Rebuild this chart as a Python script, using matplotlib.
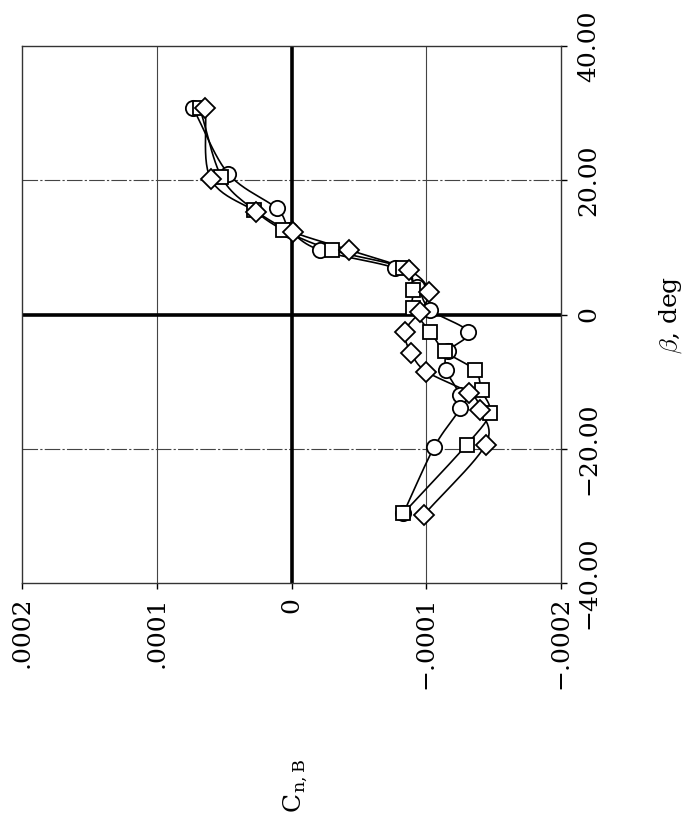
import numpy as np
import matplotlib
matplotlib.use("Agg")
import matplotlib.pyplot as plt

plt.rcParams["font.family"] = ["DejaVu Serif", "DejaVu Sans"]
plt.rcParams["mathtext.fontset"] = "cm"

# Yawing-moment coefficient vs sideslip angle, three configurations
beta_circle = [30.7, 21.0, 15.8, 12.6, 9.6, 6.9, 4.1, 0.7, -2.6, -5.5, -8.3, -12.0, -14.0, -19.7, -29.6]
cn_circle = [7.3e-5, 4.7e-5, 1.1e-5, 0.1e-5, -2.1e-5, -7.7e-5, -9.3e-5, -10.3e-5,
             -13.1e-5, -11.6e-5, -11.5e-5, -12.5e-5, -12.5e-5, -10.6e-5, -8.3e-5]

beta_square = [30.7, 20.5, 15.6, 12.6, 9.6, 6.9, 3.65, 0.9, -2.6, -5.5, -8.3, -11.3, -14.7, -19.4, -29.6]
cn_square = [6.8e-5, 5.2e-5, 2.8e-5, 0.6e-5, -3.0e-5, -8.3e-5, -9.0e-5, -9.0e-5,
             -10.3e-5, -11.4e-5, -13.6e-5, -14.1e-5, -14.7e-5, -13.0e-5, -8.3e-5]

beta_diamond = [30.7, 20.2, 15.3, 12.3, 9.6, 6.6, 3.4, 0.4, -2.6, -5.8, -8.5, -11.7, -14.2, -19.4, -29.9]
cn_diamond = [6.4e-5, 6.0e-5, 2.6e-5, -0.1e-5, -4.3e-5, -8.7e-5, -10.2e-5, -9.5e-5,
              -8.4e-5, -8.9e-5, -10.0e-5, -13.2e-5, -14.0e-5, -14.4e-5, -9.8e-5]

cn_ticks = [2e-4, 1e-4, 0.0, -1e-4, -2e-4]
cn_labels = [".0002", ".0001", "0", "\u2212.0001", "\u2212.0002"]
beta_ticks = [-40, -20, 0, 20, 40]
beta_labels = ["\u221240.00", "\u221220.00", "0", "20.00", "40.00"]


def smooth(cn, beta, n=12):
    """Catmull-Rom curve through the points (in scaled units)."""
    u = np.asarray(cn) / 1e-4
    v = np.asarray(beta) / 20.0
    P = np.column_stack([u, v])
    P = np.vstack([2 * P[0] - P[1], P, 2 * P[-1] - P[-2]])
    out = []
    t = np.linspace(0, 1, n, endpoint=False)[:, None]
    for i in range(1, len(P) - 2):
        p0, p1, p2, p3 = P[i - 1], P[i], P[i + 1], P[i + 2]
        seg = 0.5 * ((2 * p1) + (-p0 + p2) * t + (2 * p0 - 5 * p1 + 4 * p2 - p3) * t ** 2
                     + (-p0 + 3 * p1 - 3 * p2 + p3) * t ** 3)
        out.append(seg)
    out.append(P[-2][None, :])
    out = np.vstack(out)
    return out[:, 0] * 1e-4, out[:, 1] * 20.0


fig = plt.figure(figsize=(6.9, 8.23), dpi=100)
ax = fig.add_axes([0.0319, 0.2916, 0.7812, 0.6525])

ax.set_xlim(2e-4, -2e-4)
ax.set_ylim(-40, 40)

# grid
for c in [1e-4, -1e-4]:
    ax.axvline(c, color="#444444", lw=0.8, zorder=1)
for b in [20, -20]:
    ax.axhline(b, color="#444444", lw=0.8, ls=(0, (14, 2, 2, 2)), zorder=1)
ax.axvline(0, color="black", lw=2.6, zorder=1.5)
ax.axhline(0, color="black", lw=2.6, zorder=1.5)

series = [
    (cn_circle, beta_circle, "o", 11.0),
    (cn_square, beta_square, "s", 9.4),
    (cn_diamond, beta_diamond, "D", 10.5),
]
for cn, beta, m, ms in series:
    xs, ys = smooth(cn, beta)
    ax.plot(xs, ys, color="black", lw=1.2, zorder=2)
for cn, beta, m, ms in series:
    ax.plot(cn, beta, ls="none", marker=m, ms=ms, mfc="white", mec="black",
            mew=1.3, zorder=3)

for s in ax.spines.values():
    s.set_linewidth(1.0)
    s.set_color("#333333")

ax.set_xticks(cn_ticks)
ax.set_xticklabels(cn_labels)
ax.set_yticks(beta_ticks)
ax.set_yticklabels(beta_labels)
ax.yaxis.tick_right()
ax.tick_params(axis="both", length=4, width=1, direction="out", labelsize=18, colors="black")
ax.tick_params(axis="x", labelrotation=90, pad=6)
ax.tick_params(axis="y", labelrotation=90, pad=8)
for lab in ax.get_xticklabels() + ax.get_yticklabels():
    lab.set_fontweight("light")
for lab in ax.get_yticklabels():
    lab.set_verticalalignment("center")

fig.text(0.972, 0.617, r"$\beta$, deg", rotation=90, ha="center", va="center", fontsize=18)
fig.text(0.428, 0.045, r"C$_{\mathregular{n,B}}$", rotation=90, ha="center", va="center", fontsize=18)

fig.savefig("out.png", dpi=100)
